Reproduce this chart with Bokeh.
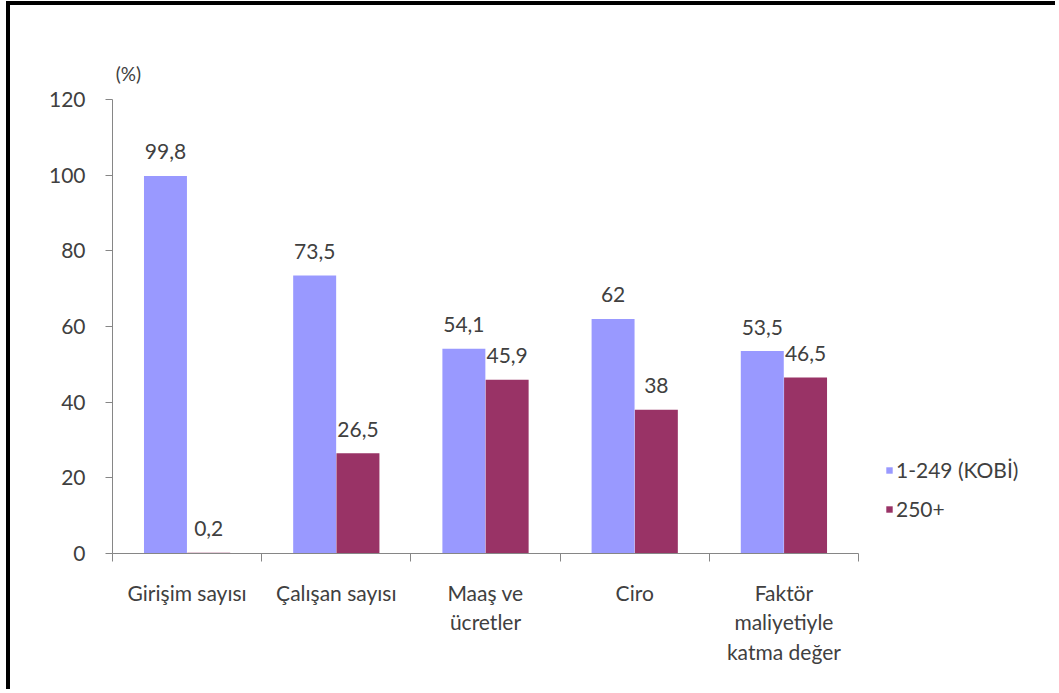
from bokeh.plotting import figure
from bokeh.models import (ColumnDataSource, Range1d, LinearAxis, FixedTicker, Legend,
                          LegendItem, Label)
from bokeh.transform import dodge
from bokeh.core.properties import value
from bokeh.embed import file_html
from bokeh.resources import INLINE

categories = ["Girişim sayısı", "Çalışan sayısı", "Maaş ve\nücretler", "Ciro",
              "Faktör\nmaliyetiyle\nkatma değer"]
kobi = [99.8, 73.5, 54.1, 62, 53.5]
buyuk = [0.2, 26.5, 45.9, 38, 46.5]
series_names = ["1-249 (KOBİ)", "250+"]
y_ticks = [0, 20, 40, 60, 80, 100, 120]
unit_label = "(%)"

def fmt(v):
    return f"{v:g}".replace(".", ",")

n = len(categories)
centers = [i + 0.5 for i in range(n)]
src = ColumnDataSource(dict(pos=centers, kobi=kobi, buyuk=buyuk,
                            kobi_lbl=[fmt(v) for v in kobi],
                            buyuk_lbl=[fmt(v) for v in buyuk]))

FONT = "Lato"
FS = "21px"
TXT = "#404040"
AX = "#868686"
C1 = "#9999FF"
C2 = "#993366"

# frame covers the area right of / above the axes; axes are bounded to the data extent
p = figure(width=1049, height=688, x_range=Range1d(0, 6.347),
           y_range=Range1d(0, 144.85), output_backend="svg", toolbar_location=None,
           x_axis_location=None, y_axis_location=None,
           min_border_left=102, min_border_right=0, min_border_top=0, min_border_bottom=140)
p.styles = {"margin-left": "6px", "margin-top": "1px",
            "border-left": "4px solid black", "border-top": "4px solid black"}
p.outline_line_color = None
p.xgrid.visible = False
p.ygrid.visible = False
p.background_fill_color = "white"
p.border_fill_color = "white"

# y axis
yax = LinearAxis(ticker=FixedTicker(ticks=y_ticks), bounds=(y_ticks[0], y_ticks[-1]))
yax.axis_line_color = AX
yax.major_tick_line_color = AX
yax.major_tick_out = 7
yax.major_tick_in = 0
yax.minor_tick_line_color = None
yax.major_label_text_font = FONT
yax.major_label_text_font_size = FS
yax.major_label_text_color = TXT
yax.major_label_standoff = 20
p.add_layout(yax, "left")

# x axis: names at category centres, tick marks at category boundaries
xax = LinearAxis(ticker=FixedTicker(ticks=centers, minor_ticks=list(range(n + 1))),
                 bounds=(0, n),
                 major_label_overrides={c: name for c, name in zip(centers, categories)})
xax.axis_line_color = AX
xax.major_tick_line_color = None
xax.major_tick_out = 8
xax.major_tick_in = 0
xax.minor_tick_line_color = AX
xax.minor_tick_out = 8
xax.minor_tick_in = 0
xax.major_label_text_font = FONT
xax.major_label_text_font_size = FS
xax.major_label_text_color = TXT
xax.major_label_text_line_height = 1.18
xax.major_label_standoff = 18
p.add_layout(xax, "below")

w = 0.288
r1 = p.vbar(x=dodge("pos", -0.145), top="kobi", width=w, source=src,
            fill_color=C1, line_color=None)
r2 = p.vbar(x=dodge("pos", 0.145), top="buyuk", width=w, source=src,
            fill_color=C2, line_color=None)

for col, lbl, off in (("kobi", "kobi_lbl", -0.145), ("buyuk", "buyuk_lbl", 0.145)):
    p.text(x=dodge("pos", off), y=col, text=lbl, source=src,
           text_align="center", text_baseline="alphabetic", y_offset=-24,
           text_font=value(FONT), text_font_size=FS, text_color=TXT)

p.add_layout(Label(x=0.107, y=127, text=unit_label, text_align="center",
                   text_baseline="middle", text_font=FONT, text_font_size="19px",
                   text_color=TXT))

legend = Legend(items=[LegendItem(label=series_names[0], renderers=[r1]),
                       LegendItem(label=series_names[1], renderers=[r2])],
                location=(773, 32), orientation="vertical")
legend.border_line_color = None
legend.background_fill_alpha = 0
legend.padding = 0
legend.margin = 0
legend.glyph_width = 8
legend.glyph_height = 8
legend.label_height = 21
legend.spacing = 14
legend.label_standoff = 3
legend.label_text_font = FONT
legend.label_text_font_size = FS
legend.label_text_color = TXT
p.add_layout(legend, "center")

open("out.html", "w").write(file_html(p, INLINE))
